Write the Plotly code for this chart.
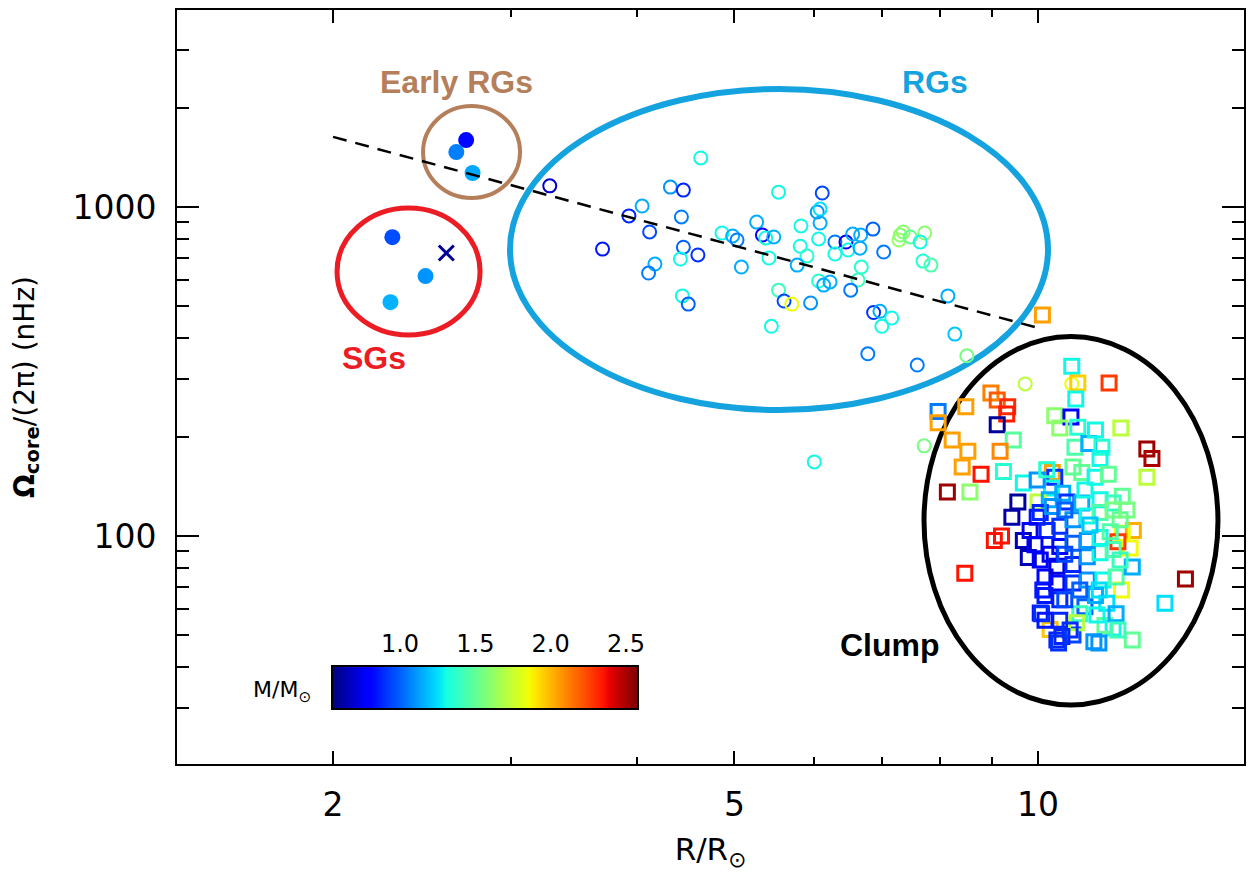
import numpy as np
import plotly.graph_objects as go

# ---------------- data ----------------
# Subgiants (filled circles) and the one subgiant marked with an X
sg_R = [2.29, 2.47, 2.28]
sg_Omega = [810, 617, 514]
sg_M = [0.96, 1.10, 1.16]

sgx_R = [2.59]
sgx_Omega = [725]
sgx_M = [0.60]

# Early red giants (filled circles)
erg_R = [2.71, 2.65, 2.75]
erg_Omega = [1598, 1469, 1269]
erg_M = [0.82, 1.06, 1.14]

# Red giants (open circles)
rg_R = [3.28, 4.63, 4.32, 4.45, 4.05, 3.93, 4.12, 4.43, 3.70, 4.45, 4.60, 4.42, 4.17, 4.11,
        4.44, 4.50, 4.86, 4.98, 5.03, 5.26, 5.33, 5.37, 5.47, 5.41, 5.08, 5.53, 6.11, 6.04,
        6.08, 6.08, 5.82, 6.06, 5.81, 5.90, 5.77, 6.29, 6.45, 6.55, 6.67, 6.86, 6.29, 6.48,
        6.66, 7.03, 7.30, 7.35, 7.28, 7.47, 7.72, 7.64, 6.68, 7.69, 7.83, 6.06, 6.13, 6.22,
        6.63, 6.52, 5.53, 5.60, 5.70, 5.95, 6.87, 6.97, 7.16, 7.00, 5.44, 8.14, 8.27, 6.78,
        7.59, 8.50, 6.00, 7.71, 9.71, 10.8]
rg_Omega = [1160, 1410, 1150, 1126, 1007, 940, 840, 933, 745, 755, 715, 695, 671, 630,
            537, 507, 834, 817, 794, 900, 822, 805, 811, 700, 657, 1110, 1103, 966,
            986, 894, 876, 800, 760, 710, 666, 783, 783, 828, 822, 857, 720, 740,
            750, 730, 822, 840, 794, 811, 834, 783, 657, 685, 666, 596, 579, 592,
            600, 559, 559, 518, 507, 511, 478, 482, 460, 434, 434, 537, 411, 358,
            331, 353, 168, 188, 290, 290]
rg_M = [0.68, 1.30, 1.10, 0.88, 1.15, 0.88, 0.95, 1.05, 0.85, 1.00, 0.90, 1.30, 1.15, 1.05,
        1.30, 1.00, 1.30, 1.15, 1.05, 1.15, 0.80, 1.30, 1.15, 1.30, 1.15, 1.30, 0.95, 1.10,
        1.25, 1.15, 1.30, 1.30, 1.30, 1.35, 1.15, 1.05, 0.75, 1.15, 1.15, 1.00, 1.30, 1.30,
        1.15, 1.05, 1.60, 1.60, 1.62, 1.50, 1.60, 1.30, 1.35, 1.35, 1.45, 1.35, 1.15, 1.15,
        1.40, 1.05, 1.40, 0.95, 1.85, 1.10, 0.90, 1.15, 1.30, 1.30, 1.30, 1.15, 1.20, 1.05,
        1.05, 1.55, 1.30, 1.55, 1.72, 1.85]

# Clump stars (open squares)
clump_R = [10.8, 10.95, 11.76, 10.9, 8.98, 9.11, 9.33, 9.31, 7.96, 7.96, 8.48, 9.11, 10.39, 10.78,
           10.51, 10.95, 12.08, 9.45, 8.22, 8.52, 8.41, 9.17, 8.78, 9.24, 8.13, 8.56, 10.88, 11.23,
           11.57, 11.52, 12.82, 12.97, 12.82, 10.33, 10.39, 10.83, 11.05, 11.39, 11.74, 9.67, 10.31,
           10.58, 9.55, 10.0, 10.26, 10.68, 11.05, 11.52, 12.12, 11.87, 9.42, 9.98, 9.67, 9.2, 9.05,
           9.78, 10.05, 10.16, 8.46, 12.43, 12.12, 12.34, 12.0, 14.0, 12.1, 13.36, 10.28, 11.87,
           11.65, 12.4, 11.36, 10.83, 10.44, 10.05, 10.51, 11.13, 11.7, 10.11, 10.44, 10.83, 11.19,
           11.6, 11.95, 12.4, 10.44, 10.83, 11.19, 11.52, 11.87, 10.51, 10.83, 11.19, 11.52, 11.79,
           10.21, 10.51, 10.83, 11.19, 11.52, 11.87, 10.05, 10.33, 11.0, 11.44, 11.95, 10.51, 10.92,
           10.56, 10.08, 10.48, 11.49, 12.0, 9.82, 9.93, 10.28, 10.63, 10.16, 10.63, 11.4, 11.0,
           11.26, 10.63, 11.5, 12.06, 12.06, 10.16, 10.76, 12.25, 11.13, 9.98, 10.2, 11.4, 10.1]
clump_Omega = [328, 292, 292, 261, 272, 259, 247, 235, 239, 221, 247, 218, 232, 230,
               213, 214, 213, 196, 196, 181, 162, 181, 154, 157, 136, 136, 186, 191,
               186, 172, 184, 172, 151, 156, 151, 162, 156, 151, 154, 145, 140,
               135, 127, 127, 129, 127, 126, 129, 132, 126, 114, 114, 97, 100, 97,
               86, 84.5, 75, 77, 104, 102, 92, 96, 74, 68.5, 62.5, 52, 52.5,
               53.5, 48.3, 47.7, 50, 48.3, 58.3, 64, 61, 62.5, 68.5, 72, 72, 73.5,
               73.5, 75, 80.5, 81, 82, 86.5, 89, 91, 93, 95, 97, 99, 103,
               104, 107, 112, 115, 118, 120, 118, 123, 58, 57.5, 58, 55.5, 54.5,
               49.5, 58, 47.3, 47.3, 51.8, 104, 94, 88, 88, 66, 64, 66, 68.5,
               108, 120, 68.5, 84.5, 112, 55.5, 51.8, 120, 138, 148, 159, 210, 470]
clump_M = [1.30, 1.95, 2.27, 1.30, 2.12, 2.20, 2.30, 2.33, 1.05, 2.05, 2.05, 0.60, 1.60, 0.80,
           1.60, 1.35, 1.72, 1.48, 2.05, 2.05, 2.05, 2.10, 2.35, 1.35, 2.52, 1.60, 1.45, 1.15,
           1.35, 1.30, 2.52, 2.50, 1.72, 2.05, 0.90, 1.50, 1.50, 1.30, 1.50, 1.30, 1.30,
           1.15, 0.60, 1.72, 1.15, 0.90, 1.15, 1.30, 1.50, 1.40, 0.62, 0.85, 0.65, 2.35, 2.35,
           0.65, 0.80, 0.80, 2.35, 2.02, 1.85, 1.85, 2.27, 2.52, 1.85, 1.25, 1.97, 1.30,
           1.50, 1.50, 1.10, 0.95, 0.88, 0.85, 0.88, 1.00, 1.25, 0.85, 0.82, 0.90, 1.10,
           1.30, 1.45, 1.15, 0.72, 0.88, 1.10, 1.30, 1.45, 0.82, 1.00, 1.10, 1.30, 1.45,
           0.88, 0.90, 1.10, 1.30, 1.45, 1.55, 0.88, 1.10, 1.40, 1.30, 1.15, 0.88, 1.70,
           0.88, 0.90, 0.90, 1.10, 1.40, 0.78, 0.78, 0.75, 0.95, 0.85, 0.95, 1.15, 1.00,
           1.20, 1.00, 1.25, 1.40, 1.50, 0.85, 0.90, 1.55, 1.30, 1.10, 1.35, 1.30, 2.05]

# Dashed scaling relation (end points)
fit_R = [2.0, 10.0]
fit_Omega = [1634, 429]

# Mass colour scale
M_MIN, M_MAX = 0.555, 2.573
cb_tickvals = [1.0, 1.5, 2.0, 2.5]
cb_ticktext = ["1.0", "1.5", "2.0", "2.5"]

x_tickvals = [2, 5, 10]
x_minor = [3, 4, 6, 7, 8, 9]
y_tickvals = [100, 1000]
y_minor = [30, 40, 50, 60, 70, 80, 90, 200, 300, 400, 500, 600, 700, 800, 900, 2000, 3000]

# ---------------- jet colour scale ----------------
seg = {
    "r": [(0, 0), (0.35, 0), (0.66, 1), (0.89, 1), (1, 0.5)],
    "g": [(0, 0), (0.125, 0), (0.375, 1), (0.64, 1), (0.91, 0), (1, 0)],
    "b": [(0, 0.5), (0.11, 1), (0.34, 1), (0.65, 0), (1, 0)],
}
stops = sorted({p for c in seg.values() for p, _ in c})
jet = []
for s in stops:
    rgb = [np.interp(s, [p for p, _ in seg[c]], [v for _, v in seg[c]]) for c in "rgb"]
    jet.append([s, "rgb(%d,%d,%d)" % tuple(int(round(255 * v)) for v in rgb)])

FONT = "DejaVu Sans"
LAB = "Liberation Sans"

fig = go.Figure()

fig.add_trace(go.Scatter(
    x=rg_R, y=rg_Omega, mode="markers",
    marker=dict(symbol="circle-open", size=13, color=rg_M, coloraxis="coloraxis",
                line=dict(width=2)),
    hoverinfo="skip"))
fig.add_trace(go.Scatter(
    x=clump_R, y=clump_Omega, mode="markers",
    marker=dict(symbol="square-open", size=14, color=clump_M, coloraxis="coloraxis",
                line=dict(width=3)),
    hoverinfo="skip"))
fig.add_trace(go.Scatter(
    x=sg_R, y=sg_Omega, mode="markers",
    marker=dict(symbol="circle", size=16, color=sg_M, coloraxis="coloraxis",
                line=dict(width=0)),
    hoverinfo="skip"))
fig.add_trace(go.Scatter(
    x=erg_R, y=erg_Omega, mode="markers",
    marker=dict(symbol="circle", size=16, color=erg_M, coloraxis="coloraxis",
                line=dict(width=0)),
    hoverinfo="skip"))
fig.add_trace(go.Scatter(
    x=sgx_R, y=sgx_Omega, mode="markers",
    marker=dict(symbol="x-thin-open", size=15, color=sgx_M, coloraxis="coloraxis",
                line=dict(width=3)),
    hoverinfo="skip"))
fig.add_trace(go.Scatter(
    x=fit_R, y=fit_Omega, mode="lines",
    line=dict(color="black", width=2.5, dash="14px,9px"),
    hoverinfo="skip"))

# colour bar drawn as an inset heat strip
cb_vals = np.linspace(M_MIN, M_MAX, 300)
fig.add_trace(go.Heatmap(
    x=cb_vals, y=[0, 1], z=[cb_vals, cb_vals], coloraxis="coloraxis",
    xaxis="x2", yaxis="y2", hoverinfo="skip"))

# group ellipses (paper coordinates)
ellipses = [
    (0.2306, 0.7507, 0.3215, 0.8727, "#B57F5B", 4),
    (0.1500, 0.5690, 0.2840, 0.7374, "#EC1C24", 5),
    (0.3121, 0.4695, 0.8163, 0.8952, "#14A3DF", 6),
    (0.7001, 0.0782, 0.9756, 0.5670, "black", 5),
]
for x0, y0, x1, y1, col, w in ellipses:
    fig.add_shape(type="circle", xref="paper", yref="paper", x0=x0, y0=y0, x1=x1, y1=y1,
                  line=dict(color=col, width=w), layer="below")

labels = [
    ("Early RGs", 0.2615, 0.9045, "#B57F5B"),
    ("RGs", 0.7104, 0.9045, "#14A3DF"),
    ("SGs", 0.1846, 0.5385, "#EC1C24"),
    ("Clump", 0.6682, 0.1578, "black"),
]
for t, x, y, c in labels:
    fig.add_annotation(text="<b>%s</b>" % t, x=x, y=y, xref="paper", yref="paper",
                       showarrow=False, font=dict(family=LAB, size=32, color=c),
                       xanchor="center", yanchor="middle")

fig.add_annotation(text="M/M<sub>⊙</sub>", x=0.1275, y=0.0968, xref="paper", yref="paper",
                   showarrow=False, xanchor="right", yanchor="middle",
                   font=dict(family=FONT, size=22, color="black"))

axis_common = dict(showline=True, linewidth=2, linecolor="black", mirror="ticks",
                   ticks="inside", tickcolor="black", tickwidth=2, showgrid=False,
                   zeroline=False)

fig.update_layout(
    width=1248, height=872,
    margin=dict(l=177, r=4, t=10, b=108, autoexpand=False),
    plot_bgcolor="white", paper_bgcolor="white",
    showlegend=False,
    coloraxis=dict(colorscale=jet, cmin=M_MIN, cmax=M_MAX, showscale=False),
    xaxis=dict(type="log", range=[0.1463, 1.2042], tickvals=x_tickvals,
               ticktext=[str(v) for v in x_tickvals], ticklen=13,
               minor=dict(tickvals=x_minor, ticklen=7, tickwidth=2, ticks="inside",
                          tickcolor="black", showgrid=False),
               tickfont=dict(family=FONT, size=33, color="black"),
               ticklabelstandoff=10,
               title=dict(text="R/R<sub>⊙</sub>", font=dict(family=FONT, size=31, color="black"),
                          standoff=20),
               **axis_common),
    yaxis=dict(type="log", range=[1.307, 3.599], tickvals=y_tickvals,
               ticktext=[str(v) for v in y_tickvals], ticklen=22,
               minor=dict(tickvals=y_minor, ticklen=12, tickwidth=2, ticks="inside",
                          tickcolor="black", showgrid=False),
               tickfont=dict(family=FONT, size=33, color="black"),
               ticklabelstandoff=12,
               title=dict(text="<b>Ω<sub>core</sub></b>/(2π) (nHz)",
                          font=dict(family=FONT, size=28, color="black"), standoff=30),
               **axis_common),
    xaxis2=dict(domain=[0.1462, 0.4311], anchor="y2", range=[M_MIN, M_MAX], side="top",
                tickvals=cb_tickvals, ticktext=cb_ticktext, ticks="", showgrid=False,
                zeroline=False, showline=True, mirror=True, linecolor="black", linewidth=1.5,
                tickfont=dict(family=FONT, size=24, color="black"), ticklabelstandoff=4),
    yaxis2=dict(domain=[0.0743, 0.1286], anchor="x2", range=[-0.5, 1.5], showticklabels=False,
                ticks="", showgrid=False, zeroline=False, showline=True, mirror=True,
                linecolor="black", linewidth=1.5),
)

fig.write_html("out.html")
